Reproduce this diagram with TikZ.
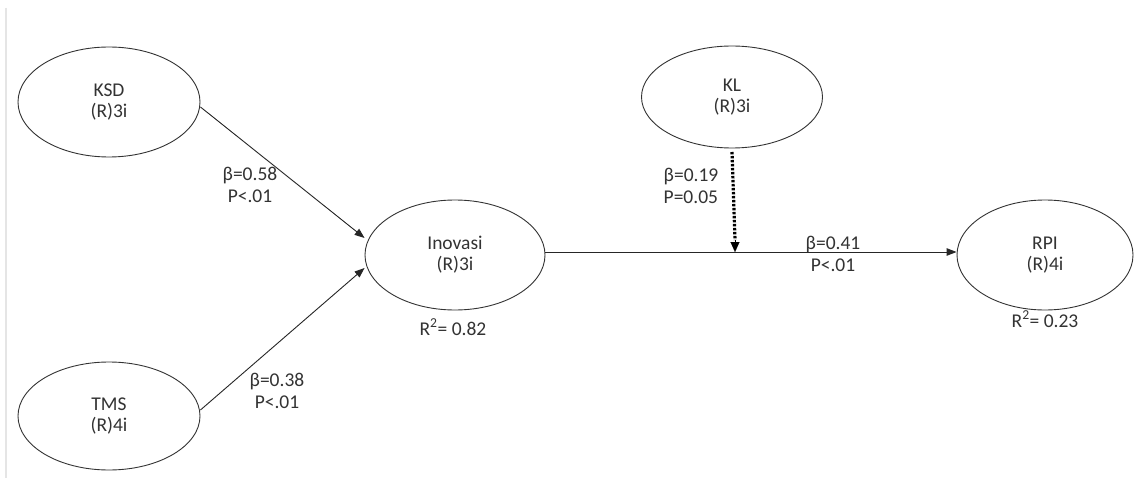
\documentclass[tikz,border=0pt]{standalone}
\usepackage{fontspec}
\setmainfont{Carlito}
\usetikzlibrary{arrows.meta,shapes.geometric}
\begin{document}
\begin{tikzpicture}[x=1pt,y=-1pt,
  lv/.style={draw=black!80,line width=0.9pt,ellipse,minimum width=#1,inner sep=0pt,
    align=center,font=\fontsize{19.5}{21}\selectfont,text=black!80},
  lab/.style={align=center,font=\fontsize{19.5}{22}\selectfont,text=black!80,inner sep=0pt},
  path/.style={draw=black!85,line width=0.9pt,-{Triangle[length=10pt,width=7.5pt]}}]
\useasboundingbox (0,0) rectangle (1134,481);
\fill[white] (0,0) rectangle (1134,481);
\draw[black!10,line width=1.5pt] (6,8) -- (6,478);
\node[lv=182pt,minimum height=110pt] (ksd) at (109,102) {KSD\\(R)3i};
\node[lv=182pt,minimum height=108pt] (tms) at (109,416) {TMS\\(R)4i};
\node[lv=180pt,minimum height=110pt] (ino) at (455,255) {Inovasi\\(R)3i};
\node[lv=181pt,minimum height=102pt] (kl) at (732,97) {KL\\(R)3i};
\node[lv=176pt,minimum height=110pt] (rpi) at (1045,255) {RPI\\(R)4i};
\coordinate (j) at (735,252);
\draw[path] (ksd.east |- 0,107) -- (ino.west |- 0,238);
\draw[path] (tms.east |- 0,410) -- (ino.west |- 0,268);
\draw[path] (ino.east |- j) -- (rpi.west |- j);
\draw[draw=black,line width=3.2pt,dash pattern=on 2.4pt off 1.6pt] (kl.south |- 0,152) -- (735,240);
\draw[black,line width=0.1pt,-{Triangle[length=10pt,width=9pt]}] (735,240) -- (j);
\node[lab] (l1) at (250,185) {β=0.58\\P<.01};
\node[lab] (l2) at (277,391) {β=0.38\\P<.01};
\node[lab,align=left] (l3) at (691,186) {β=0.19\\P=0.05};
\node[lab] (l4) at (833,254) {β=0.41\\P<.01};
\node[lab] (r1) at (453,327) {R\textsuperscript{2}= 0.82};
\node[lab] (r2) at (1045,319) {R\textsuperscript{2}= 0.23};
\end{tikzpicture}
\end{document}
